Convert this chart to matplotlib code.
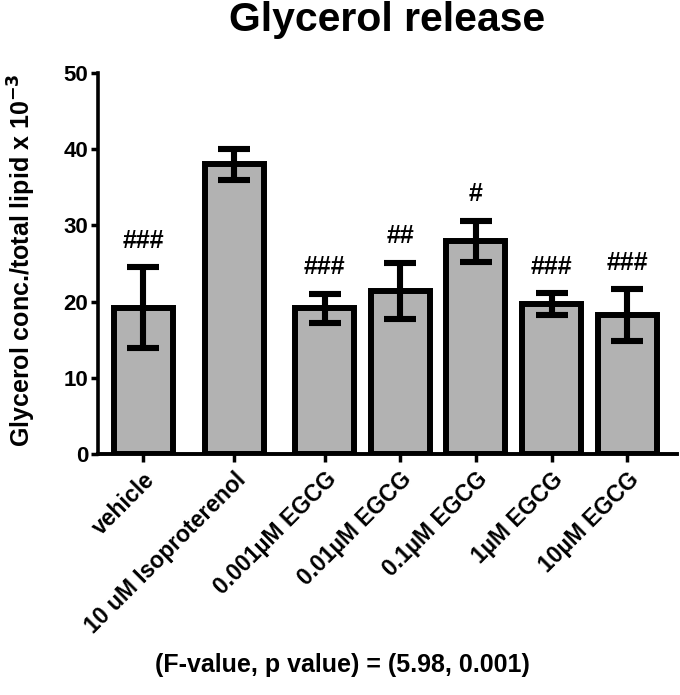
import matplotlib
matplotlib.use("Agg")
import matplotlib.pyplot as plt

# data
groups = ["vehicle", "10 uM Isoproterenol", "0.001µM EGCG", "0.01µM EGCG",
          "0.1µM EGCG", "1µM EGCG", "10µM EGCG"]
means = [19.2, 38.0, 19.1, 21.4, 27.9, 19.7, 18.2]
errs = [5.3, 2.0, 1.9, 3.7, 2.7, 1.4, 3.4]
marks = ["###", "", "###", "##", "#", "###", "###"]
y_ticks = [0, 10, 20, 30, 40, 50]

# bar positions (first gaps are wider in the original)
xpos = [0, 1.2, 2.4, 3.4, 4.4, 5.4, 6.4]

plt.rcParams['font.family'] = ['Liberation Sans', 'DejaVu Sans']
plt.rcParams['font.weight'] = 'bold'

fig = plt.figure(figsize=(6.8, 6.95), dpi=100)
ax = fig.add_axes([98/680, 1-454/695, (677-98)/680, (454-73)/695])

ax.bar(xpos, means, width=0.78, color="#b2b2b2", edgecolor="black", linewidth=4.3, zorder=2)
ax.errorbar(xpos, means, yerr=errs, fmt="none", ecolor="black", elinewidth=4.4,
            capsize=11.5, capthick=4.4, zorder=3)

for x, m, e, s in zip(xpos, means, errs, marks):
    if s:
        ax.text(x, m + e + 3.5, s, ha="center", va="center", fontsize=18, fontweight="bold")

ax.set_xlim(-0.6, 7.06)
ax.set_ylim(0, 50)
ax.set_yticks(y_ticks)
ax.set_yticklabels([str(t) for t in y_ticks], fontsize=16, fontweight="bold")
ax.set_xticks(xpos)
ax.set_xticklabels(groups, rotation=45, ha="right", rotation_mode="anchor",
                   fontsize=16.5, fontweight="bold")
ax.tick_params(axis="y", length=5, width=2.5, pad=2)
ax.tick_params(axis="x", length=6, width=2.5, pad=4)

for side in ["top", "right"]:
    ax.spines[side].set_visible(False)
ax.spines["left"].set_linewidth(2.6)
ax.spines["bottom"].set_linewidth(2.8)

fig.text(387/680, 1-20/695, "Glycerol release", ha="center", va="center",
         fontsize=29.5, fontweight="bold")
fig.text(22/680, 1-260/695, "Glycerol conc./total lipid x 10$^{\\mathbf{-3}}$",
         rotation=90, ha="center", va="center", fontsize=18, fontweight="bold")
fig.text(342/680, 1-665/695, "(F-value, p value) = (5.98, 0.001)", ha="center",
         va="center", fontsize=18, fontweight="bold")

fig.savefig("out.png", dpi=100)
